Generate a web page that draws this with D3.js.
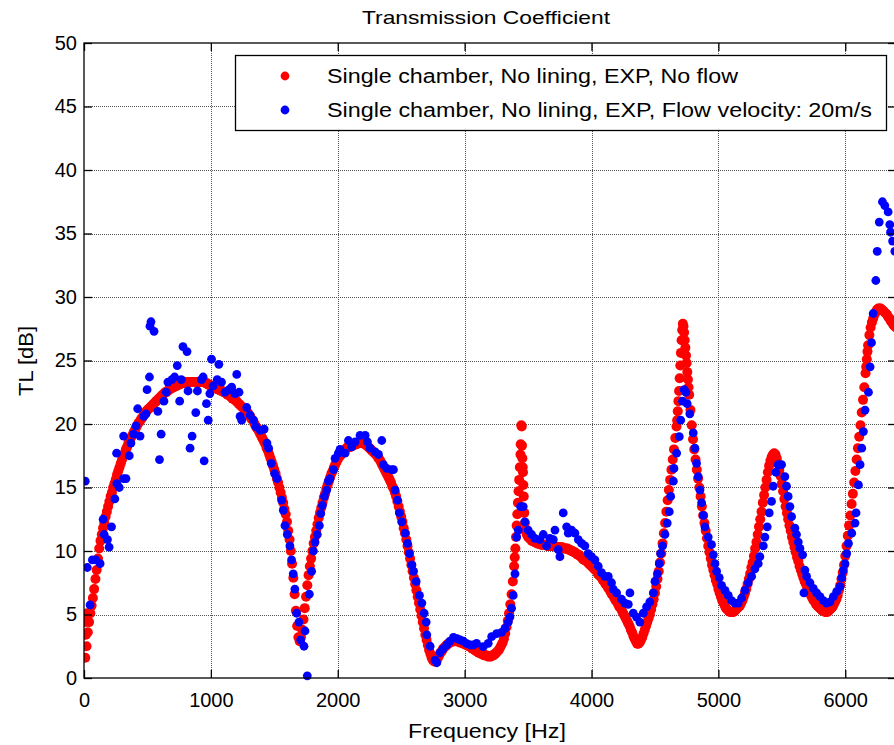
<!DOCTYPE html>
<html>
<head>
<meta charset="utf-8">
<script src="https://cdn.jsdelivr.net/npm/d3@7"></script>
<style>
  html, body { margin: 0; padding: 0; background: #fff; }
  svg text { font-family: "Liberation Sans", Arial, sans-serif; fill: #000; }
</style>
</head>
<body>
<div id="chart"></div>
<script>
// ------------------------------------------------- Data -------------------------------------------------
const chartTitle = "Transmission Coefficient";
const xLabel = "Frequency [Hz]";
const yLabel = "TL [dB]";
const xTicks = [0, 1000, 2000, 3000, 4000, 5000, 6000];
const yTicks = [0, 5, 10, 15, 20, 25, 30, 35, 40, 45, 50];
const seriesNames = [
    "Single chamber, No lining, EXP, No flow",
    "Single chamber, No lining, EXP, Flow velocity: 20m/s"
];
const seriesColors = ["#ff0000", "#0000ff"];

// No flow: TL read every 10 Hz from 0 to 6400 Hz
const redStep = 10;
const redTL = [
    5.0, 1.6, 2.5, 3.6, 4.4, 5.1, 5.7, 6.3, 7.0, 7.8,
    8.5, 9.4, 10.2, 10.8, 11.3, 11.8, 12.2, 12.7, 13.1, 13.5,
    13.9, 14.3, 14.6, 15.0, 15.3, 15.6, 16.0, 16.3, 16.6, 16.9,
    17.2, 17.5, 17.7, 18.0, 18.2, 18.5, 18.7, 18.9, 19.1, 19.3,
    19.5, 19.7, 19.9, 20.1, 20.2, 20.4, 20.5, 20.7, 20.8, 21.0,
    21.1, 21.2, 21.3, 21.4, 21.5, 21.6, 21.7, 21.8, 21.9, 22.0,
    22.1, 22.2, 22.3, 22.4, 22.5, 22.5, 22.6, 22.7, 22.8, 22.8,
    22.9, 22.9, 23.0, 23.0, 23.1, 23.1, 23.2, 23.2, 23.2, 23.3,
    23.3, 23.3, 23.3, 23.3, 23.3, 23.3, 23.3, 23.3, 23.3, 23.3,
    23.3, 23.3, 23.3, 23.3, 23.3, 23.3, 23.2, 23.2, 23.1, 23.1,
    23.0, 23.0, 22.9, 22.9, 22.8, 22.8, 22.7, 22.7, 22.6, 22.6,
    22.5, 22.5, 22.4, 22.3, 22.3, 22.2, 22.1, 22.0, 22.0, 21.9,
    21.8, 21.7, 21.6, 21.5, 21.4, 21.3, 21.2, 21.1, 21.0, 20.9,
    20.7, 20.6, 20.4, 20.3, 20.1, 19.9, 19.7, 19.6, 19.4, 19.2,
    19.0, 18.8, 18.6, 18.4, 18.1, 17.9, 17.6, 17.3, 17.0, 16.7,
    16.4, 16.1, 15.7, 15.4, 15.0, 14.6, 14.2, 13.8, 13.3, 12.9,
    12.3, 11.6, 10.9, 10.0, 9.0, 7.9, 6.6, 5.3, 4.1, 3.2,
    2.9, 3.2, 3.8, 4.6, 5.5, 6.4, 7.3, 8.1, 8.8, 9.4,
    10.0, 10.6, 11.1, 11.6, 12.1, 12.6, 13.0, 13.4, 13.8, 14.2,
    14.5, 14.9, 15.2, 15.5, 15.8, 16.1, 16.3, 16.6, 16.8, 17.0,
    17.2, 17.4, 17.5, 17.7, 17.8, 17.9, 18.0, 18.1, 18.2, 18.2,
    18.2, 18.3, 18.3, 18.4, 18.4, 18.4, 18.5, 18.5, 18.5, 18.5,
    18.5, 18.4, 18.4, 18.3, 18.2, 18.1, 18.0, 17.9, 17.8, 17.7,
    17.6, 17.5, 17.3, 17.2, 17.0, 16.8, 16.6, 16.4, 16.2, 16.0,
    15.8, 15.6, 15.4, 15.1, 14.9, 14.6, 14.3, 13.9, 13.5, 13.1,
    12.7, 12.3, 11.8, 11.4, 10.9, 10.4, 9.9, 9.4, 8.9, 8.4,
    7.9, 7.4, 6.9, 6.4, 5.9, 5.4, 4.9, 4.4, 3.9, 3.4,
    3.0, 2.6, 2.2, 1.9, 1.6, 1.4, 1.3, 1.3, 1.4, 1.6,
    1.8, 2.0, 2.1, 2.3, 2.4, 2.5, 2.6, 2.7, 2.8, 2.8,
    2.9, 2.9, 2.9, 2.9, 2.9, 2.9, 2.8, 2.8, 2.8, 2.7,
    2.7, 2.6, 2.6, 2.5, 2.5, 2.4, 2.3, 2.3, 2.2, 2.1,
    2.1, 2.0, 2.0, 1.9, 1.9, 1.8, 1.8, 1.8, 1.7, 1.7,
    1.7, 1.7, 1.8, 1.8, 1.9, 2.0, 2.1, 2.2, 2.4, 2.6,
    2.8, 3.1, 3.5, 4.0, 4.5, 5.1, 5.8, 6.6, 7.6, 8.8,
    10.2, 12.0, 13.8, 15.6, 17.6, 19.8, 16.2, 13.0, 11.6, 11.3,
    11.1, 11.0, 10.9, 10.8, 10.8, 10.7, 10.7, 10.6, 10.6, 10.6,
    10.5, 10.5, 10.5, 10.5, 10.5, 10.4, 10.4, 10.4, 10.4, 10.4,
    10.4, 10.4, 10.3, 10.3, 10.3, 10.3, 10.3, 10.3, 10.2, 10.2,
    10.2, 10.2, 10.1, 10.1, 10.0, 10.0, 9.9, 9.9, 9.8, 9.7,
    9.7, 9.6, 9.5, 9.4, 9.3, 9.3, 9.2, 9.1, 9.0, 8.9,
    8.8, 8.7, 8.6, 8.5, 8.4, 8.2, 8.1, 8.0, 7.9, 7.7,
    7.6, 7.4, 7.3, 7.1, 7.0, 6.8, 6.6, 6.5, 6.3, 6.1,
    6.0, 5.8, 5.6, 5.5, 5.3, 5.1, 4.9, 4.7, 4.5, 4.3,
    4.1, 3.8, 3.6, 3.3, 3.1, 2.9, 2.7, 2.7, 2.8, 3.0,
    3.2, 3.5, 3.8, 4.1, 4.4, 4.7, 5.0, 5.4, 5.8, 6.2,
    6.7, 7.2, 7.8, 8.4, 9.1, 9.8, 10.6, 11.4, 12.2, 13.1,
    14.0, 14.8, 15.6, 16.4, 17.2, 18.0, 18.9, 19.8, 21.0, 22.6,
    24.6, 26.6, 27.9, 27.2, 26.0, 24.8, 23.5, 22.3, 21.1, 19.9,
    18.8, 18.0, 17.2, 16.4, 15.7, 15.0, 14.3, 13.5, 12.8, 12.2,
    11.6, 11.0, 10.4, 9.9, 9.4, 8.9, 8.5, 8.1, 7.7, 7.4,
    7.0, 6.7, 6.4, 6.1, 5.9, 5.7, 5.5, 5.4, 5.3, 5.2,
    5.2, 5.2, 5.2, 5.3, 5.4, 5.5, 5.6, 5.7, 5.9, 6.1,
    6.4, 6.7, 7.0, 7.4, 7.8, 8.2, 8.7, 9.1, 9.6, 10.2,
    10.7, 11.3, 11.9, 12.5, 13.1, 13.8, 14.4, 15.0, 15.6, 16.2,
    16.7, 17.1, 17.4, 17.6, 17.7, 17.6, 17.3, 16.9, 16.4, 15.9,
    15.3, 14.7, 14.1, 13.5, 13.0, 12.5, 12.0, 11.6, 11.1, 10.7,
    10.3, 9.9, 9.5, 9.2, 8.8, 8.5, 8.2, 7.9, 7.6, 7.4,
    7.1, 6.9, 6.7, 6.5, 6.3, 6.1, 6.0, 5.8, 5.7, 5.6,
    5.5, 5.4, 5.3, 5.3, 5.2, 5.2, 5.2, 5.3, 5.4, 5.5,
    5.6, 5.8, 6.0, 6.2, 6.5, 6.9, 7.3, 7.8, 8.3, 8.9,
    9.6, 10.4, 11.2, 12.0, 12.8, 13.7, 14.5, 15.4, 16.3, 17.2,
    18.1, 19.0, 19.9, 20.9, 21.9, 22.9, 24.0, 25.1, 26.2, 27.0,
    27.6, 28.0, 28.3, 28.6, 28.8, 29.0, 29.1, 29.1, 29.1, 29.0,
    28.9, 28.8, 28.7, 28.6, 28.4, 28.3, 28.1, 28.0, 27.8, 27.7,
    27.6
];

// No flow: extra readings on the steep flanks
const redExtraF = [5, 15, 25, 3395, 3405, 3415, 3425, 3435, 3442, 3447, 3452, 3455, 3458, 3463, 3466, 3475,
    4675, 4685, 4695, 4705, 4715, 4725, 4735, 4745, 4755, 4765, 6165, 6175];
const redExtraTL = [4.4, 3.4, 5.1, 9.5, 11.1, 12.9, 14.7, 16.6, 18.4, 19.9, 18.3, 17.3, 16.6, 15.2, 14.3, 12.2,
    20.3, 21.8, 23.6, 25.6, 27.4, 27.7, 26.6, 25.4, 24.1, 22.9, 24.5, 25.7];

// Flow velocity 20 m/s
const blueF = [
    10, 26, 48, 66, 93, 127, 151, 159, 185, 198, 217, 243, 257, 259, 278, 312, 312, 331, 357, 370,
    391, 410, 423, 442, 471, 489, 497, 516, 520, 528, 552, 582, 595, 608, 630, 648, 661, 693, 714, 735,
    754, 767, 780, 812, 820, 836, 852, 881, 894, 926, 939, 947, 965, 979, 992, 1005, 1018, 1050, 1063, 1084,
    1111, 1143, 1164, 1190, 1204, 1222, 1230, 1243, 1283, 1309, 1336, 1354, 1389, 1420, 1442, 1455, 1476, 1502, 1521,
    1558, 1571, 1584, 1602, 1623, 1636, 1649, 1662, 1676, 1694, 1708, 1734, 1742, 1760, 1776, 1794, 1808, 1821, 1839,
    1855, 1866, 1879, 1895, 1913, 1926, 1939, 1966, 1979, 2005, 2018, 2058, 2084, 2110, 2137, 2176, 2216, 2234,
    2255, 2295, 2321, 2347, 2360, 2386, 2426, 2439, 2452, 2471, 2486, 2505, 2531, 2550, 2565, 2584, 2597, 2618,
    2644, 2663, 2681, 2697, 2702, 2728, 2767, 2781, 2807, 2830, 2860, 2885, 2912, 2940, 2965, 2990, 3017, 3045, 3070,
    3094, 3147, 3186, 3213, 3252, 3291, 3318, 3344, 3357, 3370, 3383, 3397, 3410, 3423, 3441, 3462, 3475, 3501,
    3528, 3554, 3593, 3620, 3646, 3672, 3699, 3712, 3738, 3751, 3777, 3804, 3817, 3843, 3869, 3896, 3922, 3948,
    3974, 4000, 4027, 4053, 4079, 4106, 4132, 4158, 4171, 4198, 4237, 4263, 4290, 4303, 4329, 4355, 4381, 4408,
    4434, 4460, 4487, 4500, 4519, 4534, 4545, 4560, 4579, 4597, 4613, 4624, 4645, 4650, 4671, 4692, 4703, 4718,
    4730, 4744, 4754, 4775, 4802, 4815, 4828, 4841, 4855, 4868, 4881, 4894, 4920, 4946, 4960, 4973, 4986, 5007,
    5025, 5052, 5078, 5104, 5130, 5156, 5183, 5209, 5235, 5262, 5288, 5314, 5327, 5354, 5367, 5385, 5401, 5419,
    5432, 5453, 5472, 5498, 5524, 5537, 5550, 5564, 5577, 5603, 5616, 5630, 5643, 5664, 5674, 5682, 5695, 5722,
    5748, 5774, 5801, 5827, 5853, 5880, 5906, 5932, 5959, 5972, 5985, 5998, 6011, 6025, 6051, 6077, 6085, 6104,
    6117, 6130, 6143, 6156, 6183, 6196, 6207, 6220, 6241, 6252, 6268, 6293, 6312, 6338, 6351, 6357, 6373, 6391
];
const blueTL = [
    15.5, 8.7, 5.75, 9.3, 9.3, 9.0, 12.5, 11.3, 10.9, 10.3, 11.9, 14.1, 17.7, 15.3, 15.0, 15.7, 19.05, 15.7, 17.5, 18.5,
    19.2, 19.85, 21.2, 19.05, 20.6, 20.8, 22.7, 23.7, 27.7, 28.05, 27.3, 21.0, 17.2, 19.2, 21.8, 22.5, 23.3, 23.5, 23.7, 24.6,
    21.8, 23.5, 26.1, 25.7, 22.6, 18.1, 19.05, 20.9, 22.6, 23.5, 23.7, 17.1, 21.6, 20.3, 22.4, 25.1, 23.0, 23.5, 24.7, 23.3,
    22.5, 22.7, 22.9, 22.4, 23.9, 22.5, 20.6, 20.3, 21.3, 20.7, 20.3, 19.8, 19.5, 19.6, 18.5, 18.1, 16.9, 16.1, 15.7,
    14.0, 13.2, 12.0, 11.3, 10.4, 9.3, 8.2, 7.0, 5.1, 4.4, 3.0, 2.5, 3.7, 0.17, 6.6, 8.4, 10.0, 10.7, 11.3,
    12.0, 12.95, 13.6, 14.3, 14.8, 15.5, 15.7, 16.4, 17.3, 17.7, 18.0, 17.7, 18.7, 18.2, 18.6, 19.1, 19.1, 18.6,
    18.1, 17.8, 17.6, 18.7, 16.8, 16.5, 16.4, 16.4, 14.8, 14.0, 13.0, 12.3, 11.4, 10.6, 9.8, 8.9, 8.4, 7.6,
    6.5, 5.9, 5.1, 4.4, 3.4, 2.5, 1.4, 1.2, 2.0, 2.3, 2.6, 2.9, 3.2, 3.1, 3.0, 2.9, 2.7, 2.6, 2.6,
    2.73, 2.47, 2.73, 3.25, 3.5, 3.6, 3.9, 4.4, 4.8, 5.5, 6.5, 8.2, 11.1, 11.65, 13.5, 13.5, 12.3, 11.65,
    11.3, 11.0, 10.9, 11.3, 10.4, 11.0, 10.9, 11.65, 10.1, 9.55, 13.0, 11.9, 11.4, 11.65, 11.4, 10.9, 10.6, 10.4,
    9.8, 9.55, 9.3, 8.8, 8.3, 8.0, 8.0, 7.5, 7.0, 6.7, 6.2, 5.9, 5.8, 6.7, 5.1, 4.8, 4.4, 5.1,
    5.6, 6.0, 6.7, 7.6, 8.2, 9.0, 9.8, 10.4, 11.3, 12.2, 13.1, 14.3, 15.5, 16.5, 17.7, 19.0, 20.3, 21.8,
    22.7, 22.5, 21.6, 20.8, 19.3, 18.1, 16.9, 15.85, 14.8, 13.8, 12.8, 11.9, 11.1, 10.5, 9.7, 9.0, 8.4, 7.9,
    7.3, 6.9, 6.5, 6.1, 5.9, 5.9, 6.3, 6.9, 7.5, 8.0, 8.6, 9.0, 9.55, 10.4, 11.1, 11.9, 13.0, 13.9,
    15.1, 16.2, 16.8, 16.8, 15.85, 15.1, 14.3, 13.5, 12.7, 11.8, 11.3, 10.7, 10.2, 9.7, 6.7, 8.5, 8.0, 7.5,
    7.05, 6.7, 6.4, 6.1, 5.9, 6.0, 6.4, 6.8, 7.2, 7.9, 8.5, 9.0, 9.8, 10.6, 11.4, 12.2, 13.0, 15.2,
    16.8, 18.1, 19.4, 21.1, 22.5, 24.5, 26.4, 28.7, 31.3, 33.6, 35.9, 37.5, 37.2, 36.7, 35.7, 35.1, 34.4, 33.6
];

// ------------------------------------------------- Layout -------------------------------------------------
const width = 894, height = 745;
const plot = { left: 84, right: 896, top: 43, bottom: 678 };
const redRadius = 5, blueRadius = 4.4;

const svg = d3.select("#chart").append("svg")
    .attr("width", width)
    .attr("height", height);

const x = d3.scaleLinear().domain([0, 6400]).range([plot.left, plot.right]);
const y = d3.scaleLinear().domain([0, 50]).range([plot.bottom, plot.top]);

// ------------------------------------------------- Grid -------------------------------------------------
const grid = svg.append("g").attr("class", "grid")
    .attr("stroke", "#555").attr("stroke-width", 1).attr("stroke-dasharray", "1,1");

grid.selectAll("line.gx").data(xTicks.filter(d => d > 0)).join("line")
    .attr("class", "gx")
    .attr("x1", d => Math.round(x(d)) + 0.5).attr("x2", d => Math.round(x(d)) + 0.5)
    .attr("y1", plot.top).attr("y2", plot.bottom);

grid.selectAll("line.gy").data(yTicks.filter(d => d > 0 && d < 50)).join("line")
    .attr("class", "gy")
    .attr("y1", d => Math.round(y(d)) + 0.5).attr("y2", d => Math.round(y(d)) + 0.5)
    .attr("x1", plot.left).attr("x2", plot.right);

// ------------------------------------------------- Data points -------------------------------------------------
const redPoints = redTL.map((v, i) => ({ f: i * redStep, tl: v }))
    .concat(redExtraF.map((f, i) => ({ f: f, tl: redExtraTL[i] })));
const bluePoints = blueF.map((f, i) => ({ f: f, tl: blueTL[i] }));

svg.append("clipPath").attr("id", "clip")
    .append("rect")
    .attr("x", plot.left).attr("y", plot.top)
    .attr("width", plot.right - plot.left).attr("height", plot.bottom - plot.top + 5);

const marks = svg.append("g").attr("clip-path", "url(#clip)");

marks.append("g").selectAll("circle").data(redPoints).join("circle")
    .attr("cx", d => x(d.f))
    .attr("cy", d => y(d.tl))
    .attr("r", redRadius)
    .attr("fill", seriesColors[0]);

marks.append("g").selectAll("circle").data(bluePoints).join("circle")
    .attr("cx", d => x(d.f))
    .attr("cy", d => y(d.tl))
    .attr("r", blueRadius)
    .attr("fill", seriesColors[1]);

// ------------------------------------------------- Axes -------------------------------------------------
function styleAxis(g) {
    g.select(".domain").remove();
    g.selectAll(".tick line").attr("stroke", "#000").attr("stroke-width", 1.3);
    g.selectAll(".tick text")
        .attr("fill", "#000")
        .style("font-family", "'Liberation Sans', Arial, sans-serif")
        .style("font-size", "20px");
}

svg.append("g")
    .attr("transform", `translate(0,${plot.bottom})`)
    .call(d3.axisBottom(x).tickValues(xTicks).tickSize(-8).tickPadding(15).tickFormat(d3.format("d")))
    .call(styleAxis)
    .selectAll(".tick text").attr("dy", "0.71em");

svg.append("g")
    .attr("transform", `translate(0,${plot.top})`)
    .call(d3.axisTop(x).tickValues(xTicks).tickSize(-8).tickFormat(""))
    .call(styleAxis);

svg.append("g")
    .attr("transform", `translate(${plot.left},0)`)
    .call(d3.axisLeft(y).tickValues(yTicks).tickSize(-8).tickPadding(7).tickFormat(d3.format("d")))
    .call(styleAxis);

svg.append("g")
    .attr("transform", `translate(${plot.right},0)`)
    .call(d3.axisRight(y).tickValues(yTicks).tickSize(-8).tickFormat(""))
    .call(styleAxis);

// Box round the plot
svg.append("rect")
    .attr("x", plot.left).attr("y", plot.top)
    .attr("width", plot.right - plot.left).attr("height", plot.bottom - plot.top)
    .attr("fill", "none").attr("stroke", "#000").attr("stroke-width", 1.3);

// ------------------------------------------------- Labels -------------------------------------------------
svg.append("text")
    .attr("x", 486).attr("y", 24)
    .attr("text-anchor", "middle")
    .attr("textLength", 248).attr("lengthAdjust", "spacingAndGlyphs")
    .style("font-size", "19px")
    .text(chartTitle);

svg.append("text")
    .attr("x", 487).attr("y", 738)
    .attr("text-anchor", "middle")
    .attr("textLength", 158).attr("lengthAdjust", "spacingAndGlyphs")
    .style("font-size", "20px")
    .text(xLabel);

svg.append("text")
    .attr("transform", "translate(33,361) rotate(-90)")
    .attr("text-anchor", "middle")
    .attr("textLength", 70).attr("lengthAdjust", "spacingAndGlyphs")
    .style("font-size", "20px")
    .text(yLabel);

// ------------------------------------------------- Legend -------------------------------------------------
const legend = svg.append("g");
legend.append("rect")
    .attr("x", 235.5).attr("y", 55.5)
    .attr("width", 651).attr("height", 75)
    .attr("fill", "#fff").attr("stroke", "#000").attr("stroke-width", 1.3);

const legendRows = [76, 110];
const legendLengths = [411, 545];
seriesNames.forEach((name, i) => {
    legend.append("circle")
        .attr("cx", 285).attr("cy", legendRows[i])
        .attr("r", 4.4)
        .attr("fill", seriesColors[i]);
    legend.append("text")
        .attr("x", 327).attr("y", legendRows[i] + 7)
        .attr("textLength", legendLengths[i]).attr("lengthAdjust", "spacingAndGlyphs")
        .style("font-size", "20px")
        .text(name);
});
</script>
</body>
</html>
